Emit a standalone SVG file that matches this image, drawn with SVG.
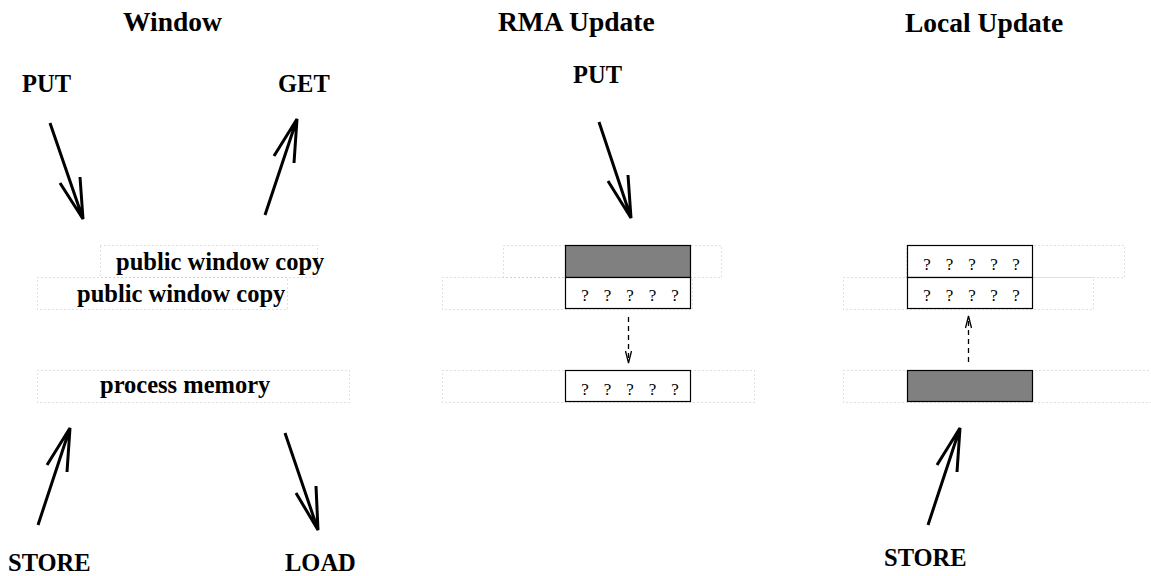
<svg xmlns="http://www.w3.org/2000/svg" width="1151" height="576" viewBox="0 0 1151 576">
<style>
.t{font-family:"Liberation Serif","Times New Roman",serif;font-weight:bold;fill:#000}
.title{font-size:27.5px}
.lbl{font-size:24.5px}
.q{font-family:"Liberation Serif","Times New Roman",serif;font-size:17px;fill:#000;text-anchor:middle}
.dot{fill:none;stroke:#c0c0c0;stroke-width:1;stroke-dasharray:1 3}
.box{fill:#fff;stroke:#000;stroke-width:1.2}
.gray{fill:#808080;stroke:#000;stroke-width:1.2}
.arr{fill:none;stroke:#000;stroke-width:3;stroke-linecap:butt}
.dash{fill:none;stroke:#000;stroke-width:1.3;stroke-dasharray:5 4}
.head{fill:none;stroke:#000;stroke-width:1.3}
</style>
<rect width="1151" height="576" fill="#fff"/>
<g id="titles">
<text class="t title" x="123" y="31">Window</text>
<text class="t title" x="498" y="31">RMA Update</text>
<text class="t title" x="905" y="32">Local Update</text>
</g>
<g id="window-panel">
<g id="win-public-back"><rect class="dot" x="100.5" y="245.5" width="217" height="32"/><text class="t lbl" x="116" y="270">public window copy</text></g>
<g id="win-public-front"><rect class="dot" x="37.5" y="277.5" width="250" height="32"/><text class="t lbl" x="77" y="302">public window copy</text></g>
<g id="win-process"><rect class="dot" x="37.5" y="370.5" width="312" height="32"/><text class="t lbl" x="100" y="393">process memory</text></g>
<g id="win-put-label"><text class="t lbl" x="22" y="92">PUT</text></g>
<g id="win-get-label"><text class="t lbl" x="278" y="92">GET</text></g>
<g id="win-store-label"><text class="t lbl" x="8" y="571">STORE</text></g>
<g id="win-load-label"><text class="t lbl" x="285" y="571">LOAD</text></g>
</g>
<g id="rma-panel">
<g id="rma-public-back"><rect class="dot" x="503.5" y="245.5" width="218" height="32"/><rect class="gray" x="565.5" y="245.5" width="125" height="32"/></g>
<g id="rma-public-front"><rect class="dot" x="442.5" y="277.5" width="250" height="32"/><rect class="box" x="565.5" y="277.5" width="125" height="31"/><text class="q" x="585 607.5 630 652.5 675" y="301">?????</text></g>
<g id="rma-process"><rect class="dot" x="442.5" y="370.5" width="312" height="32"/><rect class="box" x="565.5" y="370.5" width="125" height="31"/><text class="q" x="585 607.5 630 652.5 675" y="395">?????</text></g>
<g id="rma-put-label"><text class="t lbl" x="573" y="83">PUT</text></g>
</g>
<g id="local-panel">
<g id="loc-public-back"><rect class="dot" x="906.5" y="245.5" width="218" height="32"/><rect class="box" x="907.5" y="245.5" width="125" height="32"/><text class="q" x="927 949.5 972 994 1016" y="270">?????</text></g>
<g id="loc-public-front"><rect class="dot" x="843.5" y="277.5" width="250" height="32"/><rect class="box" x="907.5" y="277.5" width="125" height="31"/><text class="q" x="927 949.5 972 994 1016" y="301">?????</text></g>
<g id="loc-process"><rect class="dot" x="843.5" y="370.5" width="312" height="32"/><rect class="gray" x="907.5" y="370.5" width="125" height="31"/></g>
<g id="loc-store-label"><text class="t lbl" x="884" y="566">STORE</text></g>
</g>
<g id="connectors">
<path class="arr" d="M50 123 L83 219 M60 183 L83 219 L80 177"/>
<path class="arr" d="M265 215 L297 119 M274 156 L297 119 L294 163"/>
<path class="arr" d="M599 122 L631 218 M608 181 L631 218 L628 175"/>
<path class="arr" d="M38 525 L70 428 M47 465 L70 428 L67 472"/>
<path class="arr" d="M285 433 L318 530 M296 493 L318 530 L316 486"/>
<path class="arr" d="M928 525 L960 428 M937 465 L960 428 L957 472"/>
<path class="dash" d="M628.5 317 L628.5 362"/>
<path class="head" d="M625.5 351 L628.5 363 L631.5 351"/>
<path class="dash" d="M968.5 362 L968.5 317"/>
<path class="head" d="M965.5 328 L968.5 316 L971.5 328"/>
</g>
</svg>
